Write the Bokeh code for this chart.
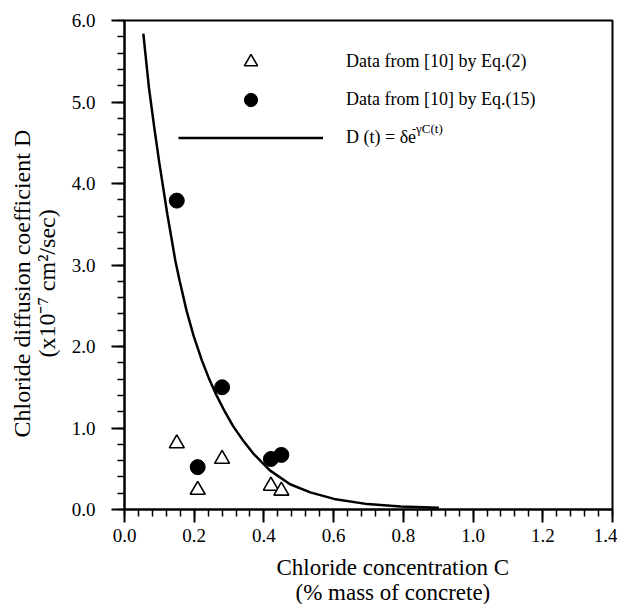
import math
from bokeh.plotting import figure
from bokeh.models import (Range1d, FixedTicker, NumeralTickFormatter, Legend,
                          LegendItem, Label, Title)
from bokeh.embed import file_html
from bokeh.resources import INLINE

# ---- data ----
eq2_c = [0.15, 0.21, 0.28, 0.42, 0.45]
eq2_d = [0.81, 0.24, 0.62, 0.29, 0.23]

eq15_c = [0.15, 0.21, 0.28, 0.42, 0.45]
eq15_d = [3.79, 0.52, 1.50, 0.62, 0.67]

fit_c = [0.054, 0.070, 0.085, 0.100, 0.111, 0.123, 0.146, 0.158, 0.178,
         0.199, 0.222, 0.243, 0.264, 0.288, 0.312, 0.338, 0.369, 0.417,
         0.475, 0.533, 0.601, 0.697, 0.792, 0.902]
fit_d = [5.84, 5.18, 4.70, 4.25, 3.95, 3.62, 3.05, 2.81, 2.44,
         2.12, 1.83, 1.60, 1.40, 1.20, 1.02, 0.86, 0.69, 0.48,
         0.31, 0.21, 0.13, 0.066, 0.037, 0.022]

x_ticks = [0.0, 0.2, 0.4, 0.6, 0.8, 1.0, 1.2, 1.4]
x_minor = [round(i * 0.04, 2) for i in range(36)]
y_ticks = [0, 1, 2, 3, 4, 5, 6]
y_minor = [round(i * 0.2, 1) for i in range(31)]

legend_labels = ["Data from [10] by Eq.(2)", "Data from [10] by Eq.(15)", "D (t) = \u03b4e"]
eq_sup = "-\u03b3C(t)"
x_title = ["Chloride concentration C", "(% mass of concrete)"]
y_title = ["Chloride diffusion coefficient D", "(x10\u207b\u2077 cm\u00b2/sec)"]

SERIF = "Liberation Serif"

p = figure(width=617, height=604, output_backend="svg", toolbar_location=None,
           x_range=Range1d(0, 1.4), y_range=Range1d(0, 6),
           min_border_left=124, min_border_right=5, min_border_top=20,
           min_border_bottom=95)
p.grid.visible = False
p.outline_line_color = "black"
p.outline_line_width = 2
p.background_fill_color = "white"
p.border_fill_color = "white"

p.xaxis.ticker = FixedTicker(ticks=x_ticks, minor_ticks=x_minor)
p.yaxis.ticker = FixedTicker(ticks=y_ticks, minor_ticks=y_minor)
p.xaxis.formatter = NumeralTickFormatter(format="0.0")
p.yaxis.formatter = NumeralTickFormatter(format="0.0")
for ax in (p.xaxis[0], p.yaxis[0]):
    ax.axis_line_width = 2
    ax.axis_line_color = "black"
    ax.major_tick_line_width = 2
    ax.minor_tick_line_width = 1.5
    ax.major_tick_line_color = "black"
    ax.minor_tick_line_color = "black"
    ax.major_tick_in = 0
    ax.minor_tick_in = 0
    ax.major_tick_out = 13
    ax.minor_tick_out = 7
    ax.major_label_text_font = SERIF
    ax.major_label_text_font_size = "19px"
    ax.major_label_text_color = "black"
p.xaxis.major_label_standoff = 6
p.yaxis.major_label_standoff = 16

fit = p.line(fit_c, fit_d, line_width=2.5, line_color="black")
tri = p.scatter(eq2_c, eq2_d, marker="triangle", size=15, fill_color="white",
                line_color="black", line_width=1.6)
circ = p.scatter(eq15_c, eq15_d, marker="circle", size=15, fill_color="black",
                 line_color="black")

legend = Legend(items=[LegendItem(label=legend_labels[0], renderers=[tri]),
                       LegendItem(label=legend_labels[1], renderers=[circ]),
                       LegendItem(label=legend_labels[2], renderers=[fit])],
                location=(54, 355), glyph_width=145, glyph_height=33, spacing=5,
                padding=0, margin=0, border_line_color=None,
                background_fill_alpha=0, label_standoff=23,
                label_text_font=SERIF, label_text_font_size="18px",
                label_text_color="black")
p.add_layout(legend)

p.add_layout(Label(x=0.824, y=4.67, text=eq_sup, text_align="left",
                   text_baseline="middle", text_font=SERIF,
                   text_font_size="13px", text_color="black"))


def title(text, align_offset, standoff, size):
    return Title(text=text, align="left", offset=align_offset, standoff=standoff,
                 vertical_align="middle", text_font=SERIF,
                 text_font_size=size, text_font_style="normal",
                 text_color="black")


# x-axis title: two centred lines
p.add_layout(title(x_title[0], 152, 18, "23px"), "below")
p.add_layout(title(x_title[1], 171, -22, "23px"), "below")
# y-axis title: line nearest the axis first
p.add_layout(title(y_title[1], 152, 15, "24px"), "left")
p.add_layout(title(y_title[0], 72, -21, "24px"), "left")

open("out.html", "w").write(file_html(p, INLINE))
